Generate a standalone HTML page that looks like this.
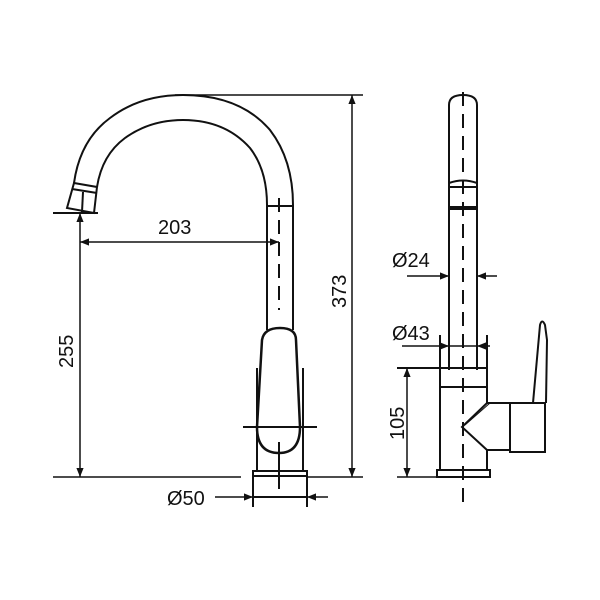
<!DOCTYPE html>
<html><head><style>body{margin:0;background:#fff}svg{display:block}text{font-family:"Liberation Sans",sans-serif;font-size:20px;fill:#111}</style></head>
<body>
<svg width="600" height="600" viewBox="0 0 600 600" xmlns="http://www.w3.org/2000/svg">
<defs><marker id="a" viewBox="0 0 10 10" refX="10" refY="5" markerWidth="8" markerHeight="6" orient="auto-start-reverse"><path d="M0,1 L10,5 L0,9 z" fill="#111"/></marker></defs>
<g stroke="#111" stroke-width="2" fill="none">
<path d="M74,183 Q80,140 110,118 Q140,95 183,95 Q240,95 270,130 Q293,160 293,205 L293,330"/>
<path d="M97,187 Q102,155 125,138 Q150,120 183,120 Q225,120 250,148 Q267,170 267,205 L267,330"/>
<path d="M74,183 L97,187 L94,213 L67,208 Z"/>
<line x1="72" y1="189" x2="97" y2="193"/>
<line x1="83" y1="192" x2="82" y2="212"/>
<line x1="53" y1="213" x2="98" y2="213"/>
<line x1="267" y1="206" x2="293" y2="206"/>
<line x1="279" y1="198" x2="279" y2="310" stroke-dasharray="14,8"/>
<path d="M262,340 Q264,328 280,328 Q296,328 296,340 L300,427 Q300,453 279,453 Q257,453 257,427 Z" stroke-width="2.5"/>
<line x1="257" y1="368" x2="257" y2="471"/>
<line x1="303" y1="368" x2="303" y2="471"/>
<line x1="243" y1="427" x2="317" y2="427"/>
<line x1="279" y1="442" x2="279" y2="489"/>
<rect x="253" y="471" width="54" height="26"/>
<line x1="253" y1="476" x2="307" y2="476"/>
<line x1="253" y1="497" x2="253" y2="507"/>
<line x1="307" y1="497" x2="307" y2="507"/>
<line x1="175" y1="95" x2="363" y2="95" stroke-width="1.5"/>
<line x1="53" y1="477" x2="241" y2="477" stroke-width="1.5"/>
<line x1="307" y1="477" x2="363" y2="477" stroke-width="1.5"/>
<line x1="352" y1="95" x2="352" y2="477" stroke-width="1.5" marker-start="url(#a)" marker-end="url(#a)"/>
<line x1="80" y1="213" x2="80" y2="477" stroke-width="1.5" marker-start="url(#a)" marker-end="url(#a)"/>
<line x1="80" y1="242" x2="279" y2="242" stroke-width="1.5" marker-start="url(#a)" marker-end="url(#a)"/>
<line x1="215" y1="497" x2="253" y2="497" stroke-width="1.5" marker-end="url(#a)"/>
<line x1="328" y1="497" x2="307" y2="497" stroke-width="1.5" marker-end="url(#a)"/>
<path d="M449,370 L449,105 Q449,95 463,95 Q477,95 477,105 L477,370"/>
<path d="M449,183 Q463,178 477,183"/>
<line x1="449" y1="187" x2="477" y2="187"/>
<line x1="449" y1="208" x2="477" y2="208" stroke-width="4"/>
<line x1="463" y1="92" x2="463" y2="505" stroke-dasharray="14,8"/>
<line x1="407" y1="276" x2="449" y2="276" stroke-width="1.5" marker-end="url(#a)"/>
<line x1="497" y1="276" x2="477" y2="276" stroke-width="1.5" marker-end="url(#a)"/>
<line x1="402" y1="346" x2="449" y2="346" stroke-width="1.5" marker-end="url(#a)"/>
<line x1="490" y1="346" x2="477" y2="346" stroke-width="1.5" marker-end="url(#a)"/>
<line x1="449" y1="346" x2="477" y2="346" stroke-width="1.5"/>
<line x1="440" y1="335" x2="440" y2="470"/>
<line x1="487" y1="335" x2="487" y2="403"/>
<line x1="487" y1="450" x2="487" y2="470"/>
<line x1="397" y1="368" x2="487" y2="368"/>
<line x1="440" y1="387" x2="487" y2="387"/>
<path d="M487,403 L510,403 L510,450 L487,450 L462,427 Z"/>
<line x1="490" y1="403" x2="465" y2="425" stroke-width="1"/>
<rect x="510" y="403" width="35" height="49"/>
<path d="M533,403 L540,325 Q542,318 545,325 L547,340 L546,403"/>
<rect x="437" y="470" width="53" height="7"/>
<line x1="397" y1="477" x2="437" y2="477" stroke-width="1.5"/>
<line x1="407" y1="368" x2="407" y2="477" stroke-width="1.5" marker-start="url(#a)" marker-end="url(#a)"/>
</g>
<text x="158" y="234">203</text>
<text transform="translate(73,368) rotate(-90)">255</text>
<text transform="translate(346,308) rotate(-90)">373</text>
<text transform="translate(404,440) rotate(-90)">105</text>
<text x="167" y="505">Ø50</text>
<text x="392" y="267">Ø24</text>
<text x="392" y="340">Ø43</text>
</svg>
</body></html>
